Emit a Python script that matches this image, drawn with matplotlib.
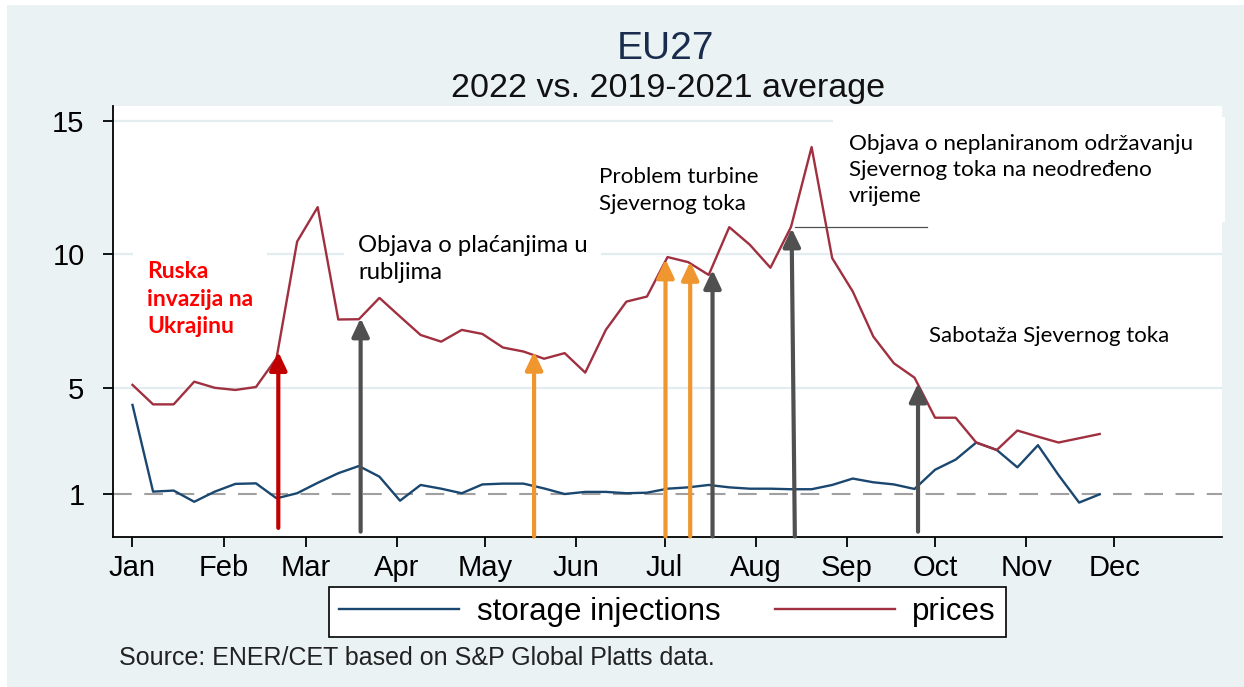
import matplotlib
matplotlib.use("Agg")
import matplotlib.pyplot as plt
import matplotlib.dates as mdates
from matplotlib.patches import Rectangle
import pandas as pd

# ---------------- data ----------------
start = pd.Timestamp("2022-01-01")
weeks = pd.date_range(start, periods=48, freq="7D")
prices = [5.1, 4.37, 4.37, 5.22, 4.99, 4.91, 5.02, 6.1, 10.47, 11.76,
          7.55, 7.56, 8.36, 7.66, 6.97, 6.72, 7.16, 7.01, 6.5, 6.35,
          6.08, 6.29, 5.56, 7.16, 8.22, 8.41, 9.89, 9.7, 9.22, 11.01,
          10.35, 9.49, 11.02, 14.01, 9.85, 8.6, 6.91, 5.91, 5.37, 3.87,
          3.87, 2.94, 2.66, 3.39, 3.16, 2.94, 3.1, 3.26]
storage = [4.35, 1.1, 1.14, 0.72, 1.1, 1.39, 1.41, 0.85, 1.04, 1.43,
           1.79, 2.06, 1.66, 0.76, 1.35, 1.21, 1.04, 1.37, 1.4, 1.4,
           1.22, 1.01, 1.09, 1.09, 1.04, 1.06, 1.21, 1.26, 1.35, 1.26,
           1.21, 1.21, 1.19, 1.19, 1.35, 1.59, 1.45, 1.37, 1.2, 1.92,
           2.3, 2.94, 2.66, 2.01, 2.84, 1.72, 0.69, 1.0]
month_labels = ["Jan", "Feb", "Mar", "Apr", "May", "Jun",
                "Jul", "Aug", "Sep", "Oct", "Nov", "Dec"]
y_ticks = [1, 5, 10, 15]

# event arrows (days since 1 Jan, tip value, base value)
event_days_base = [49.6, 77.6, 136.6, 181.3, 189.7, 197.3, 225.3, 267.2]
event_days_tip = [49.6, 77.6, 136.6, 181.3, 189.7, 197.3, 224.2, 267.2]
event_tips = [6.34, 7.6, 6.35, 9.81, 9.72, 9.41, 10.97, 5.16]
event_bases = [-0.26, -0.40, -0.58, -0.58, -0.58, -0.58, -0.58, -0.40]
event_colors = ["#C00000", "#505050", "#F0962E", "#F0962E", "#F0962E",
                "#505050", "#505050", "#505050"]
marker_line_days = [225.3, 270.1]
marker_line_value = 11.0

# ---------------- figure ----------------
W, H = 1244, 687
fig = plt.figure(figsize=(W / 100, H / 100), dpi=100, facecolor="white")
fig.patches.append(Rectangle((7 / W, 0), 1 - 7 / W, 1 - 5 / H,
                             transform=fig.transFigure, facecolor="#EAF2F3",
                             edgecolor="none", zorder=-10))

ax = fig.add_axes([113 / W, 1 - 537 / H, (1222 - 113) / W, (537 - 106) / H])
ax.set_facecolor("white")

d2n = lambda d: mdates.date2num(start + pd.to_timedelta(d, unit="D"))

ax.set_xlim(d2n(-6.63), d2n(370.6))
ax.set_ylim(-0.60, 15.55)

for v in [5, 10, 15]:
    ax.axhline(v, color="#E3ECEE", lw=1.6, zorder=0.5)
ax.axhline(1, color="#A0A0A0", lw=1.5, dashes=(9, 6), zorder=0.6)

ax.plot(weeks, storage, color="#1A476F", lw=1.7, zorder=3, label="storage injections")
ax.plot(weeks, prices, color="#A03040", lw=1.7, zorder=3, label="prices")

# arrows
for db, dt, tip, base, c in zip(event_days_base, event_days_tip, event_tips,
                                event_bases, event_colors):
    ax.annotate("", xy=(d2n(dt), tip), xytext=(d2n(db), base),
                arrowprops=dict(arrowstyle="-|>,head_width=0.26,head_length=0.55",
                                color=c, lw=3.0, mutation_scale=20,
                                shrinkA=0, shrinkB=0),
                zorder=4, annotation_clip=False)
ax.plot([d2n(marker_line_days[0]), d2n(marker_line_days[1])],
        [marker_line_value, marker_line_value], color="#505050", lw=0.9, zorder=4)

# ticks
month_starts = [mdates.date2num(pd.Timestamp(2022, m, 1)) for m in range(1, 13)]
ax.set_xticks(month_starts)
ax.set_xticklabels(month_labels)
ax.set_yticks(y_ticks)
ax.set_yticklabels([str(t) for t in y_ticks])
ax.tick_params(axis="both", direction="out", width=1.3, color="black",
               labelsize=21, labelcolor="black")
ax.tick_params(axis="x", length=7, pad=5)
ax.tick_params(axis="y", length=7.5, pad=13)
for lab in ax.get_xticklabels() + ax.get_yticklabels():
    lab.set_family("Liberation Sans")

for s in ["top", "right"]:
    ax.spines[s].set_visible(False)
for s in ["left", "bottom"]:
    ax.spines[s].set_color("black")
    ax.spines[s].set_linewidth(1.3)

# titles
fig.text(666 / W, 1 - 49 / H, "EU27", ha="center", va="center",
         fontsize=28, color="#1A2C4E", family="Liberation Sans")
fig.text(668 / W, 1 - 88 / H, "2022 vs. 2019-2021 average", ha="center",
         va="center", fontsize=24.5, color="#111111", family="Liberation Sans")

# annotations
ann_font = "Lato"
ls = 1.4
fig.text(147 / W, 1 - 299 / H, "Ruska\ninvazija na\nUkrajinu", ha="left",
         va="center", fontsize=16.5, color="#FF0000", fontweight="bold",
         family=ann_font, linespacing=ls,
         bbox=dict(facecolor="white", edgecolor="none", pad=10), zorder=1.5)
fig.text(358 / W, 1 - 259 / H, "Objava o plaćanjima u\nrubljima", ha="left",
         va="center", fontsize=17.2, color="black", family=ann_font,
         linespacing=ls, bbox=dict(facecolor="white", edgecolor="none", pad=10),
         zorder=1.5)
fig.text(599 / W, 1 - 190.5 / H, "Problem turbine\nSjevernog toka", ha="left",
         va="center", fontsize=16.1, color="black", family=ann_font,
         linespacing=ls, zorder=5)
fig.patches.append(Rectangle((833 / W, 1 - 222 / H), (1225 - 833) / W, (222 - 117) / H,
                             transform=fig.transFigure, facecolor="white",
                             edgecolor="none", zorder=1.2))
fig.text(849 / W, 1 - 170 / H,
         "Objava o neplaniranom održavanju\nSjevernog toka na neodređeno\nvrijeme",
         ha="left", va="center", fontsize=16.2, color="black", family=ann_font,
         linespacing=ls, zorder=5)
fig.text(929 / W, 1 - 336 / H, "Sabotaža Sjevernog toka", ha="left", va="center",
         fontsize=16.0, color="black", family=ann_font, zorder=5)

# legend
leg = fig.legend(loc="center", bbox_to_anchor=(667.5 / W, 1 - 612 / H), ncol=2,
                 frameon=True, fancybox=False, edgecolor="black", framealpha=1,
                 facecolor="white",
                 prop={"family": "Liberation Sans", "size": 22.5},
                 handlelength=3.85, handletextpad=0.55, columnspacing=1.75,
                 borderpad=0.32, borderaxespad=0)
leg.get_frame().set_linewidth(1.2)
for line in leg.get_lines():
    line.set_linewidth(1.7)

fig.text(119 / W, 1 - 658 / H, "Source: ENER/CET based on S&P Global Platts data.",
         ha="left", va="center", fontsize=18, color="#222222",
         family="Liberation Sans")

fig.savefig("out.png", dpi=100, facecolor=fig.get_facecolor())
